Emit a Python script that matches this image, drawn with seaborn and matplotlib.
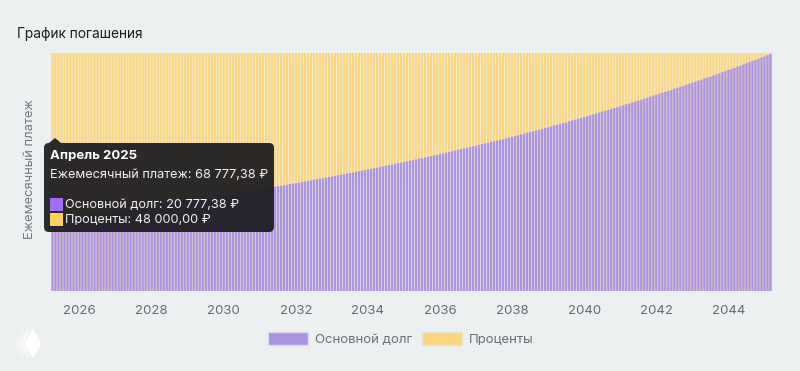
import matplotlib
matplotlib.use('Agg')
import matplotlib.pyplot as plt
import seaborn as sns
from matplotlib.patches import FancyBboxPatch, Polygon, Rectangle, Patch
from matplotlib.transforms import Affine2D

# share of the monthly payment going to principal, %, one row per 12 months from April 2025
principal_share = [
    30.2, 30.4, 30.5, 30.7, 30.8, 31.0, 31.1, 31.3, 31.4, 31.6, 31.7, 31.9,
    32.1, 32.2, 32.4, 32.5, 32.7, 32.9, 33.0, 33.2, 33.4, 33.5, 33.7, 33.9,
    34.1, 34.2, 34.4, 34.6, 34.7, 34.9, 35.1, 35.3, 35.5, 35.6, 35.8, 36.0,
    36.2, 36.4, 36.6, 36.7, 36.9, 37.1, 37.3, 37.5, 37.7, 37.9, 38.1, 38.3,
    38.4, 38.6, 38.8, 39.0, 39.2, 39.4, 39.6, 39.8, 40.0, 40.2, 40.4, 40.6,
    40.8, 41.0, 41.2, 41.4, 41.6, 41.8, 42.0, 42.3, 42.5, 42.7, 42.9, 43.1,
    43.3, 43.5, 43.8, 44.0, 44.2, 44.4, 44.6, 44.9, 45.1, 45.3, 45.5, 45.8,
    46.0, 46.2, 46.5, 46.7, 46.9, 47.2, 47.4, 47.6, 47.9, 48.1, 48.4, 48.6,
    48.8, 49.1, 49.3, 49.6, 49.8, 50.1, 50.3, 50.6, 50.8, 51.1, 51.3, 51.6,
    51.8, 52.1, 52.4, 52.6, 52.9, 53.1, 53.4, 53.7, 53.9, 54.2, 54.5, 54.7,
    55.0, 55.3, 55.6, 55.8, 56.1, 56.4, 56.7, 57.0, 57.2, 57.5, 57.8, 58.1,
    58.4, 58.7, 59.0, 59.3, 59.6, 59.9, 60.2, 60.5, 60.8, 61.1, 61.4, 61.7,
    62.0, 62.3, 62.6, 62.9, 63.2, 63.5, 63.8, 64.2, 64.5, 64.8, 65.1, 65.5,
    65.8, 66.1, 66.5, 66.8, 67.1, 67.5, 67.8, 68.2, 68.5, 68.8, 69.2, 69.5,
    69.9, 70.2, 70.6, 70.9, 71.3, 71.7, 72.0, 72.4, 72.7, 73.1, 73.5, 73.9,
    74.2, 74.6, 75.0, 75.4, 75.7, 76.1, 76.5, 76.9, 77.3, 77.7, 78.1, 78.5,
    78.8, 79.2, 79.6, 80.0, 80.4, 80.8, 81.2, 81.7, 82.1, 82.5, 82.9, 83.3,
    83.7, 84.1, 84.5, 85.0, 85.4, 85.8, 86.2, 86.7, 87.1, 87.5, 88.0, 88.4,
    88.8, 89.3, 89.7, 90.1, 90.6, 91.0, 91.5, 92.0, 92.4, 92.9, 93.3, 93.8,
    94.3, 94.7, 95.2, 95.7, 96.2, 96.6, 97.1, 97.6, 98.1, 98.6, 99.1, 99.6,
]
months = list(range(len(principal_share)))
total_share = [100] * len(months)
year_ticks = [9, 33, 57, 81, 105, 129, 153, 177, 201, 225]
year_labels = ['2026', '2028', '2030', '2032', '2034', '2036', '2038', '2040', '2042', '2044']

BG = '#edf0f1'
PURPLE = '#ab93e6'
YELLOW = '#fbd67e'
FONT = ['Inter', 'DejaVu Sans']

sns.set_style('white')
plt.rcParams['font.family'] = FONT

fig = plt.figure(figsize=(8, 3.71), dpi=100, facecolor=BG)
ax = fig.add_axes([51 / 800, 1 - 291 / 371, 721 / 800, 238 / 371], facecolor=BG)

# yellow full height behind, purple principal on top
sns.barplot(x=months, y=total_share, color=YELLOW, saturation=1, width=0.76, linewidth=0, ax=ax)
sns.barplot(x=months, y=principal_share, color=PURPLE, saturation=1, width=0.76, linewidth=0, ax=ax)
# no pixel snapping, otherwise the stripes beat into solid blocks
for bar in ax.patches:
    bar.set_snap(False)

ax.set_xlim(-0.5, len(months) - 0.5)
ax.set_ylim(0, 100)
ax.set_yticks([])
ax.set_xticks(year_ticks)
ax.set_xticklabels(year_labels, fontsize=9.5, color='#666a6e')
ax.tick_params(axis='x', length=0, pad=10)
ax.set_xlabel('')
ax.set_ylabel('')
sns.despine(ax=ax, left=True, bottom=True)

# pixel coordinates, origin at top left like the screenshot
px = Affine2D().scale(1, -1).translate(0, 371)

fig.text(17, 34, 'График погашения', transform=px, fontsize=9.9, color='#1c1c1e', va='center', ha='left')
fig.text(30, 169, 'Ежемесячный платеж', transform=px, fontsize=9.3, color='#75797d',
         rotation=90, va='center', ha='center')

handles = [Patch(facecolor=PURPLE, edgecolor='#dcd8e8', label='Основной долг'),
           Patch(facecolor=YELLOW, edgecolor='#e8e2cf', label='Проценты')]
fig.legend(handles=handles, loc='center', bbox_to_anchor=(401 / 800, 1 - 339 / 371), ncol=2, frameon=False,
           fontsize=9.5, labelcolor='#6b6f73', handlelength=3.05, handleheight=1.1,
           handletextpad=0.53, columnspacing=0.7)

# tooltip
DARK = (0.105, 0.105, 0.12, 0.93)
fig.add_artist(FancyBboxPatch((44, 143), 230, 89, boxstyle='round,pad=0,rounding_size=5',
                              transform=px, fc=DARK, ec='none', lw=0, zorder=5))
fig.add_artist(Polygon([(49, 143), (55, 138), (61, 143)], closed=True, transform=px, fc=DARK, ec='none', zorder=5))
fig.text(50, 156, 'Апрель 2025', transform=px, color='white', fontsize=9.5, fontweight='bold', va='center', zorder=6)
fig.text(50, 175, 'Ежемесячный платеж: 68 777,38 ₽', transform=px, color='#f2f2f2', fontsize=9.15, va='center', zorder=6)
fig.add_artist(Rectangle((50, 198), 13, 13, transform=px, fc='#a070f0', ec='none', zorder=6))
fig.add_artist(Rectangle((50, 213), 13, 13, transform=px, fc='#fbcf60', ec='none', zorder=6))
fig.text(65, 205, 'Основной долг: 20 777,38 ₽', transform=px, color='#f2f2f2', fontsize=9.15, va='center', zorder=6)
fig.text(65, 220, 'Проценты: 48 000,00 ₽', transform=px, color='#f2f2f2', fontsize=9.15, va='center', zorder=6)

# logo bottom left
for dx, alpha in [(-10, 0.3), (-5, 0.55), (0, 1.0)]:
    fig.add_artist(Polygon([(33 + dx, 327), (42 + dx, 344), (33 + dx, 360), (24 + dx, 344)], closed=True,
                           transform=px, fc='white', ec=BG, lw=0.8, alpha=alpha, zorder=3))

fig.savefig('out.png', dpi=100, facecolor=BG)
